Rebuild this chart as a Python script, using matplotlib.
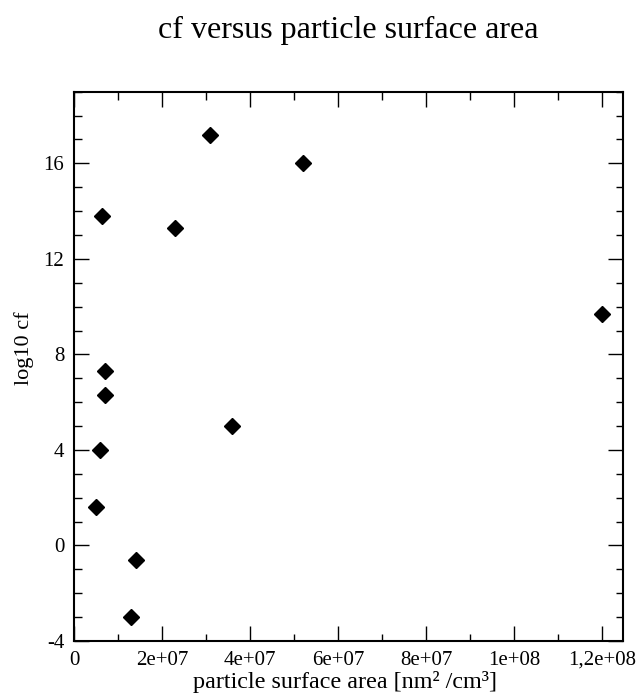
import matplotlib
matplotlib.use("Agg")
import matplotlib.pyplot as plt
from matplotlib.ticker import MultipleLocator

plt.rcParams['font.family'] = ['Liberation Serif', 'DejaVu Serif']

# data
surface_area = [6.3e6, 2.3e7, 3.1e7, 5.2e7, 1.2e8, 7.0e6, 7.0e6, 6.0e6, 3.6e7, 5.0e6, 1.4e7, 1.3e7]
log10_cf = [13.8, 13.3, 17.2, 16.0, 9.7, 7.3, 6.3, 4.0, 5.0, 1.6, -0.6, -3.0]
x_ticks = [0, 2e7, 4e7, 6e7, 8e7, 1e8, 1.2e8]
x_tick_labels = ["0", "2e+07", "4e+07", "6e+07", "8e+07", "1e+08", "1,2e+08"]
y_ticks = [-4, 0, 4, 8, 12, 16]
y_tick_labels = ["-4", "0", "4", "8", "12", "16"]

W, H = 638, 696
fig = plt.figure(figsize=(W / 100, H / 100), dpi=100)
L, R, B, T = 74, 622.7, 641, 91.7
ax = fig.add_axes([L / W, 1 - B / H, (R - L) / W, (B - T) / H])

ax.plot(surface_area, log10_cf, linestyle='none', marker='D', markersize=8.5,
        color='black')

ax.set_xlim(0, 1.247e8)
ax.set_ylim(-4, 19)
ax.set_xticks(x_ticks)
ax.set_xticklabels(x_tick_labels)
ax.set_yticks(y_ticks)
ax.set_yticklabels(y_tick_labels)
ax.xaxis.set_minor_locator(MultipleLocator(1e7))
ax.yaxis.set_minor_locator(MultipleLocator(1))

ax.tick_params(which='both', direction='in', top=True, right=True, width=1.0,
               colors='black', labelsize=15, pad=7)
ax.tick_params(which='major', length=10.8)
ax.tick_params(which='minor', length=5.4)
for s in ax.spines.values():
    s.set_linewidth(1.5)

ax.set_title("cf versus particle surface area", fontsize=23, pad=0,
             y=(B - 38) / (B - T), va='baseline')
ax.set_xlabel("particle surface area [nm² /cm³]", fontsize=17.4, va='baseline')
ax.xaxis.set_label_coords((344.7 - L) / (R - L), (B - 688) / (B - T))
ax.set_ylabel("log10 cf", fontsize=16, va='center')
ax.yaxis.set_label_coords((24 - L) / (R - L), (B - 348) / (B - T))

fig.savefig("out.png", dpi=100)
